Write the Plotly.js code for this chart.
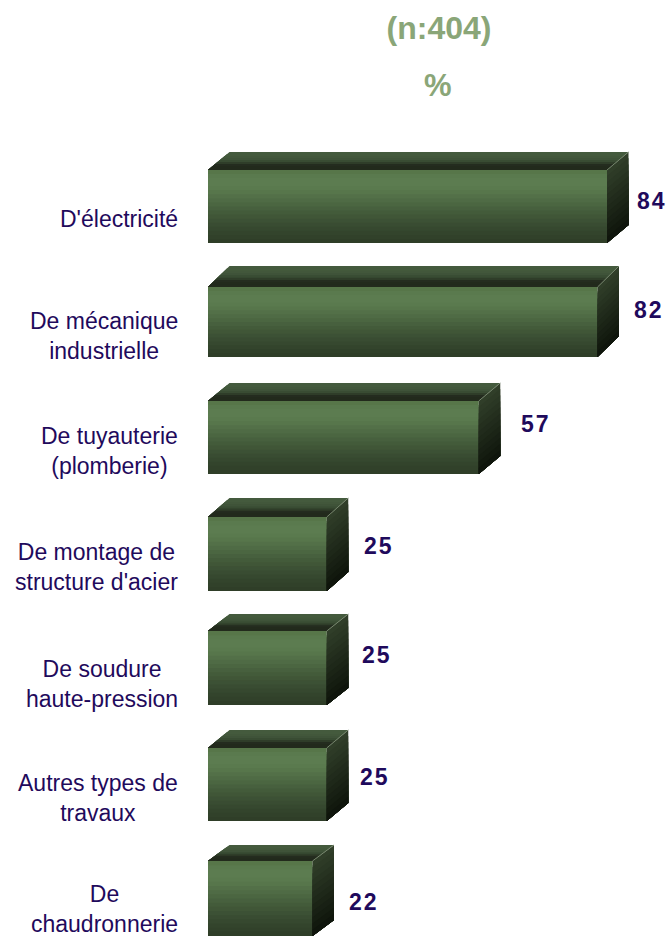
<!DOCTYPE html>
<html>
<head>
<meta charset="utf-8">
<script src="https://cdn.plot.ly/plotly-3.0.1.min.js"></script>
<style>html,body{margin:0;padding:0;background:#fff}</style>
</head>
<body>
<div id="chart" style="width:668px;height:941px"></div>
<script>
// --- data ---
const categories = ["D'électricité", "De mécanique<br>industrielle", "De tuyauterie<br>(plomberie)",
  "De montage de<br>structure d'acier", "De soudure<br>haute-pression", "Autres types de<br>travaux", "De<br>chaudronnerie"];
const values = [84, 82, 57, 25, 25, 25, 22];
const valueLabels = ["8\u200a4", "8\u200a2", "5\u200a7", "2\u200a5", "2\u200a5", "2\u200a5", "2\u200a2"];

// --- layout constants ---
const W = 668, H = 941;
const PX_PER_VALUE = 4.75, ZERO_PX = 208, ROW_PX = 115.33, FIRST_ROW_PX = 206.5;
const DX = 21.5 / PX_PER_VALUE;
// small row-by-row layout corrections, in pixels
const rowCentreNudge = [0, 0.2, 0.3, 1.5, 0.2, 1.3, 0];
const rowThickPx = [73, 70, 73, 74, 74, 73, 75];
const rowDepthPx = [18, 21, 18, 19, 17, 18, 16];
const labelShiftX = [28, 34, 40, 35, 33, 31, 34];
const labelShiftY = [6, 12, 13, 6, 13, 6, -4];
const catShiftY = [-12, -14, -14, -15, -16, -15, -11];

const centre = i => i + rowCentreNudge[i] / ROW_PX;
const thick = i => rowThickPx[i] / ROW_PX;
const depth = i => rowDepthPx[i] / ROW_PX;

const frontColors = ["#577649","#5a7a4e","#5c7c50","#5c7c50","#5a7a4e","#57764b","#537048","#4f6b45","#4b6641",
  "#47603e","#435b3a","#405637","#3c5135","#394c32","#36482f","#33442c","#31412a","#2f3e28"];
const sideColors = ["#303e29","#2d3a26","#2a3724","#273321","#242f1e","#212b1c","#1e2819","#1b2416","#182014","#151d11","#12190e","#0f150c"];
const topColors = ["#445a3d","#445a3d","#42573b","#3f5339","#394c33","#2f3d29","#242c1f","#222a1c","#222a1c"];

const traces = [];
// front face: each band runs from its start to the bottom of the face and is painted over by the next
frontColors.forEach((c, k) => {
  const f = k / frontColors.length;
  traces.push({type:'bar', orientation:'h', x: values,
    y: values.map((_, i) => centre(i) + thick(i) * f / 2),
    width: values.map((_, i) => thick(i) * (1 - f)),
    base: 0, marker:{color:c, line:{width:0}}, hoverinfo:'skip', showlegend:false});
});
// side face, painted from its top band down
sideColors.forEach((c, k) => {
  const f = k / sideColors.length, xs = [], ys = [];
  values.forEach((v, i) => {
    const top = centre(i) - thick(i)/2 + f * thick(i), bot = centre(i) + thick(i)/2, d = depth(i);
    xs.push(v, v + DX, v + DX, v, v, null);
    ys.push(top, top - d, bot - d, bot, top, null);
  });
  traces.push({type:'scatter', mode:'lines', x:xs, y:ys, fill:'toself', fillcolor:c, line:{width:0}, hoverinfo:'skip', showlegend:false});
});
// top face, painted from the back edge toward the front
topColors.forEach((c, k) => {
  const f = k / topColors.length, xs = [], ys = [];
  values.forEach((v, i) => {
    const front = centre(i) - thick(i)/2, sh = DX * (1 - f), shY = depth(i) * (1 - f);
    xs.push(sh, v + sh, v, 0, sh, null);
    ys.push(front - shY, front - shY, front, front, front - shY, null);
  });
  traces.push({type:'scatter', mode:'lines', x:xs, y:ys, fill:'toself', fillcolor:c, line:{width:0}, hoverinfo:'skip', showlegend:false});
});
// light diagonal edge
{
  const xs = [], ys = [];
  values.forEach((v, i) => {
    const front = centre(i) - thick(i)/2;
    xs.push(v, v + DX, null); ys.push(front, front - depth(i), null);
  });
  traces.push({type:'scatter', mode:'lines', x:xs, y:ys, line:{width:1, color:'#77866e'}, hoverinfo:'skip', showlegend:false});
}

const INK = '#1f0a5c';
const annotations = [];
categories.forEach((t, i) => annotations.push({
  text:t, x:0, y:i, xref:'x', yref:'y', xanchor:'right', yanchor:'middle', align:'center',
  xshift:-28, yshift:catShiftY[i], showarrow:false, font:{family:'Liberation Sans, Arial, sans-serif', size:23, color:INK}
}));
valueLabels.forEach((t, i) => annotations.push({
  text:'<b>'+t+'</b>', x:values[i], y:i, xref:'x', yref:'y', xanchor:'left', yanchor:'middle',
  xshift:labelShiftX[i], yshift:labelShiftY[i], showarrow:false,
  font:{family:'Liberation Sans, Arial, sans-serif', size:23, color:INK}
}));
annotations.push({text:'<b>%</b>', x:438/W, y:1-85/H, xref:'paper', yref:'paper', xanchor:'center', yanchor:'middle',
  showarrow:false, font:{family:'Liberation Sans, Arial, sans-serif', size:31, color:'#8aa678'}});

const layout = {
  width:W, height:H, margin:{l:0,r:0,t:0,b:0}, paper_bgcolor:'#fff', plot_bgcolor:'#fff',
  title:{text:'<b>(n:404)</b>', x:439/W, xanchor:'center', xref:'paper', y:1-28/H, yanchor:'middle', yref:'container',
    font:{family:'Liberation Sans, Arial, sans-serif', size:32, color:'#8aa678'}},
  barmode:'overlay', showlegend:false,
  xaxis:{visible:false, range:[-ZERO_PX/PX_PER_VALUE, (W-ZERO_PX)/PX_PER_VALUE], fixedrange:true},
  yaxis:{visible:false, range:[(H-FIRST_ROW_PX)/ROW_PX, -FIRST_ROW_PX/ROW_PX], fixedrange:true},
  annotations
};
Plotly.newPlot('chart', traces, layout, {staticPlot:true, displayModeBar:false});
</script>
</body>
</html>
